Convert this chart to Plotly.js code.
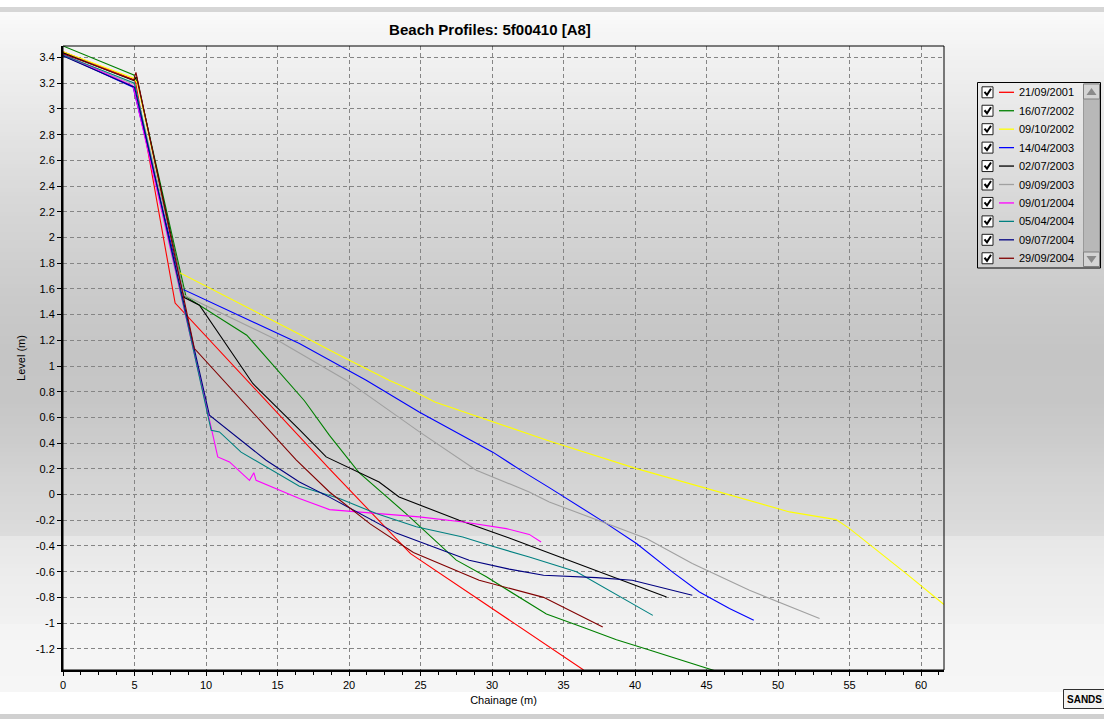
<!DOCTYPE html>
<html><head><meta charset="utf-8">
<script src="https://cdn.plot.ly/plotly-3.0.1.min.js"></script>
<style>html,body{margin:0;padding:0;background:#fff;overflow:hidden;} #chart{width:1104px;height:719px;}</style>
</head><body><div id="chart"></div>
<script>
// ---------------- DATA ----------------
const seriesNames = ['21/09/2001','16/07/2002','09/10/2002','14/04/2003','02/07/2003','09/09/2003','09/01/2004','05/04/2004','09/07/2004','29/09/2004'];
const seriesColors = ['#ff0000','#008000','#ffff00','#0000ff','#000000','#a0a0a0','#ff00ff','#008080','#000080','#800000'];

const chainage_21092001 = [0, 5.05, 7.84, 18.63, 24.3, 36.4];
const level_21092001    = [3.445, 3.225, 1.49, 0.2, -0.46, -1.365];

const chainage_16072002 = [0, 4.95, 5.2, 8.6, 12.85, 16.88, 18.63, 20.7, 24.0, 27.5, 29.6, 33.8, 36.3, 38.7, 41.0, 45.1, 45.7];
const level_16072002    = [3.49, 3.265, 3.21, 1.54, 1.24, 0.73, 0.46, 0.17, -0.15, -0.51, -0.64, -0.93, -1.03, -1.13, -1.21, -1.355, -1.375];

const chainage_09102002 = [0, 4.95, 5.2, 8.09, 16.53, 19.33, 22.8, 24.6, 26.0, 29.1, 32.6, 34.0, 40.1, 46.6, 50.8, 54.06, 55.0, 58.96, 61.6];
const level_09102002    = [3.445, 3.24, 3.2, 1.73, 1.247, 1.084, 0.89, 0.8, 0.72, 0.604, 0.475, 0.417, 0.202, -0.005, -0.135, -0.195, -0.265, -0.615, -0.855];

const chainage_14042003 = [0, 4.9, 8.33, 16.53, 21.2, 24.9, 30.05, 32.0, 34.0, 38.0, 40.1, 42.6, 44.5, 46.6, 48.3];
const level_14042003    = [3.418, 3.17, 1.6, 1.175, 0.89, 0.643, 0.33, 0.19, 0.054, -0.226, -0.381, -0.602, -0.758, -0.887, -0.978];

const chainage_02072003 = [0, 4.95, 5.15, 8.49, 9.54, 13.27, 16.53, 18.4, 22.1, 23.5, 27.7, 31.2, 42.2];
const level_02072003    = [3.437, 3.22, 3.25, 1.533, 1.473, 0.864, 0.506, 0.293, 0.098, -0.019, -0.2, -0.338, -0.797];

const chainage_09092003 = [0, 5.0, 8.49, 15.0, 19.8, 24.9, 28.9, 32.6, 34.0, 40.8, 44.0, 48.0, 52.9];
const level_09092003    = [3.413, 3.19, 1.55, 1.2, 0.89, 0.49, 0.19, 0.02, -0.058, -0.342, -0.537, -0.745, -0.965];

const chainage_09012004 = [0, 4.9, 10.2, 10.82, 11.64, 13.04, 13.34, 13.5, 16.53, 18.63, 24.9, 28.0, 31.0, 32.6, 33.43];
const level_09012004    = [3.426, 3.18, 0.6, 0.293, 0.254, 0.111, 0.17, 0.111, -0.03, -0.117, -0.174, -0.213, -0.265, -0.31, -0.369];

const chainage_05042004 = [0, 5.0, 10.36, 10.94, 12.45, 14.9, 16.53, 19.33, 21.9, 24.7, 27.95, 29.8, 32.6, 35.9, 41.24];
const level_05042004    = [3.42, 3.2, 0.5, 0.487, 0.33, 0.168, 0.065, -0.03, -0.148, -0.25, -0.33, -0.395, -0.486, -0.6, -0.94];

const chainage_09072004 = [0, 5.0, 10.24, 14.2, 16.53, 18.63, 23.3, 28.4, 31.2, 33.6, 37.3, 39.8, 44.0];
const level_09072004    = [3.413, 3.17, 0.617, 0.267, 0.098, -0.02, -0.3, -0.511, -0.58, -0.628, -0.646, -0.667, -0.784];

const chainage_29092004 = [0, 4.95, 5.1, 9.19, 16.3, 18.63, 21.5, 24.5, 29.1, 33.6, 37.74];
const level_29092004    = [3.43, 3.225, 3.285, 1.136, 0.27, 0.02, -0.23, -0.45, -0.667, -0.8, -1.03];

const xTickVals = [0, 5, 10, 15, 20, 25, 30, 35, 40, 45, 50, 55, 60];
const yTickVals = [3.4, 3.2, 3, 2.8, 2.6, 2.4, 2.2, 2, 1.8, 1.6, 1.4, 1.2, 1, 0.8, 0.6, 0.4, 0.2, 0, -0.2, -0.4, -0.6, -0.8, -1, -1.2];
const yTickText = ['3.4','3.2','3','2.8','2.6','2.4','2.2','2','1.8','1.6','1.4','1.2','1','0.8','0.6','0.4','0.2','0','-0.2','-0.4','-0.6','-0.8','-1','-1.2'];

const chainageList = [chainage_21092001, chainage_16072002, chainage_09102002, chainage_14042003, chainage_02072003, chainage_09092003, chainage_09012004, chainage_05042004, chainage_09072004, chainage_29092004];
const levelList = [level_21092001, level_16072002, level_09102002, level_14042003, level_02072003, level_09092003, level_09012004, level_05042004, level_09072004, level_29092004];

// ---------------- LAYOUT HELPERS ----------------
const FONT = 'Liberation Sans, Arial, sans-serif';
const FIG_W = 1104, FIG_H = 719, PL = 63, PR = 944, PT = 46, PB = 670;
const PW = PR - PL, PH = PB - PT;
const fx = p => (p - PL) / PW;
const fy = p => (PB - p) / PH;

const shapes = [];
const annotations = [];

// background gradient (style only)
const gradStops = [[12,250],[46,243],[100,234],[150,225],[200,216],[250,209],[300,202],[350,197],[400,198],[440,204],[480,212],[536,220],[537,231],[580,237],[623,241],[624,244],[692,246]];
function grayAt(p){
  for (let i = 0; i < gradStops.length - 1; i++) {
    const a = gradStops[i], b = gradStops[i+1];
    if (p >= a[0] && p <= b[0]) return Math.round(a[1] + (b[1]-a[1]) * (p - a[0]) / (b[0]-a[0]));
  }
  return 250;
}
for (let p = 12; p < 692; p += 4) {
  const g = grayAt(p + 2);
  shapes.push({type:'rect', xref:'paper', yref:'paper', x0:fx(0), x1:fx(FIG_W), y0:fy(p+4), y1:fy(p),
    fillcolor:`rgb(${g},${g},${g})`, line:{width:0}, layer:'below'});
}
// window chrome
shapes.push({type:'rect', xref:'paper', yref:'paper', x0:fx(0), x1:fx(FIG_W), y0:fy(12), y1:fy(7), fillcolor:'#d6d6d6', line:{width:0}, layer:'below'});
shapes.push({type:'rect', xref:'paper', yref:'paper', x0:fx(0), x1:fx(FIG_W), y0:fy(719), y1:fy(714), fillcolor:'#d0d0d0', line:{width:0}, layer:'below'});
// plot frame (thin top/right)
shapes.push({type:'rect', xref:'paper', yref:'paper', x0:0, x1:1, y0:0, y1:1, line:{color:'#000', width:1}, layer:'above'});

// legend box
shapes.push({type:'rect', xref:'paper', yref:'paper', x0:fx(977.5), x1:fx(1100.5), y0:fy(268), y1:fy(82.5), line:{color:'#000', width:1}, fillcolor:'rgba(0,0,0,0)', layer:'above'});
// scrollbar
shapes.push({type:'rect', xref:'paper', yref:'paper', x0:fx(1083.5), x1:fx(1099.5), y0:fy(266.5), y1:fy(84), fillcolor:'#b8b8b8', line:{color:'#9a9a9a', width:1}, layer:'above'});
shapes.push({type:'rect', xref:'paper', yref:'paper', x0:fx(1083.5), x1:fx(1099.5), y0:fy(99), y1:fy(84), fillcolor:'#d4d4d4', line:{color:'#808080', width:1}, layer:'above'});
shapes.push({type:'rect', xref:'paper', yref:'paper', x0:fx(1083.5), x1:fx(1099.5), y0:fy(266.5), y1:fy(252), fillcolor:'#d4d4d4', line:{color:'#808080', width:1}, layer:'above'});
shapes.push({type:'path', xref:'paper', yref:'paper', path:`M ${fx(1086.5)} ${fy(95)} L ${fx(1096.5)} ${fy(95)} L ${fx(1091.5)} ${fy(88)} Z`, fillcolor:'#8a8a8a', line:{width:0}, layer:'above'});
shapes.push({type:'path', xref:'paper', yref:'paper', path:`M ${fx(1086.5)} ${fy(256)} L ${fx(1096.5)} ${fy(256)} L ${fx(1091.5)} ${fy(263)} Z`, fillcolor:'#8a8a8a', line:{width:0}, layer:'above'});

for (let i = 0; i < seriesNames.length; i++) {
  const cy = 92.3 + i * 18.44;
  shapes.push({type:'rect', xref:'paper', yref:'paper', x0:fx(982), x1:fx(993), y0:fy(cy+5.5), y1:fy(cy-5.5), fillcolor:'#ffffff', line:{color:'#202020', width:1}, layer:'above'});
  shapes.push({type:'path', xref:'paper', yref:'paper', path:`M ${fx(984.5)} ${fy(cy-0.5)} L ${fx(987)} ${fy(cy+2.5)} L ${fx(991)} ${fy(cy-3.5)}`, line:{color:'#000', width:2}, layer:'above'});
  shapes.push({type:'line', xref:'paper', yref:'paper', x0:fx(999), x1:fx(1014), y0:fy(cy), y1:fy(cy), line:{color:seriesColors[i], width:1.3}, layer:'above'});
  annotations.push({xref:'paper', yref:'paper', x:fx(1017), y:fy(cy), xanchor:'left', yanchor:'middle', showarrow:false,
    text:seriesNames[i], font:{family:FONT, size:11, color:'#000'}});
}

// SANDS button
shapes.push({type:'rect', xref:'paper', yref:'paper', x0:fx(1063.5), x1:fx(1108), y0:fy(708.5), y1:fy(689.5), fillcolor:'#f4f4f4', line:{color:'#303030', width:1}, layer:'above'});
annotations.push({xref:'paper', yref:'paper', x:fx(1065), y:fy(699), xanchor:'left', yanchor:'middle', showarrow:false,
  text:'<b>SANDS</b>', font:{family:FONT, size:10, color:'#000'}});

// ---------------- TRACES ----------------
const traces = seriesNames.map((name, i) => ({
  type:'scatter', mode:'lines', name:name,
  x: chainageList[i], y: levelList[i],
  line:{color:seriesColors[i], width:1.1},
  hoverinfo:'x+y+name'
}));

const layout = {
  width: FIG_W, height: FIG_H,
  margin:{l:PL, r:FIG_W-PR, t:PT, b:FIG_H-PB, pad:0},
  paper_bgcolor:'#ffffff', plot_bgcolor:'rgba(0,0,0,0)',
  showlegend:false,
  font:{family:FONT, size:11, color:'#000'},
  title:{text:'<b>Beach Profiles: 5f00410 [A8]</b>', font:{family:FONT, size:15, color:'#000'},
    xref:'paper', x:fx(490), xanchor:'center', yref:'container', y:1-30/FIG_H, yanchor:'middle'},
  xaxis:{
    range:[0, 61.6], tickvals:xTickVals, ticks:'outside', ticklen:4, tickcolor:'#000', tickwidth:1,
    showline:true, linecolor:'#000', linewidth:2, mirror:false, zeroline:false,
    showgrid:true, gridcolor:'#858585', gridwidth:1, griddash:'4px,3px',
    minor:{dtick:1.25, tick0:0, ticks:'outside', ticklen:3, tickcolor:'#000', showgrid:false},
    tickfont:{family:FONT, size:11, color:'#000'},
    title:{text:'Chainage (m)', font:{family:FONT, size:11, color:'#000'}, standoff:6}
  },
  yaxis:{
    range:[-1.365, 3.49], tickvals:yTickVals, ticktext:yTickText, ticks:'outside', ticklen:4, tickcolor:'#000', tickwidth:1,
    showline:true, linecolor:'#000', linewidth:2, mirror:false, zeroline:false,
    showgrid:true, gridcolor:'#858585', gridwidth:1, griddash:'4px,3px',
    tickfont:{family:FONT, size:11, color:'#000'},
    title:{text:'Level (m)', font:{family:FONT, size:11, color:'#000'}, standoff:8}
  },
  shapes: shapes,
  annotations: annotations
};

Plotly.newPlot('chart', traces, layout, {displayModeBar:false, staticPlot:true});
</script></body></html>
